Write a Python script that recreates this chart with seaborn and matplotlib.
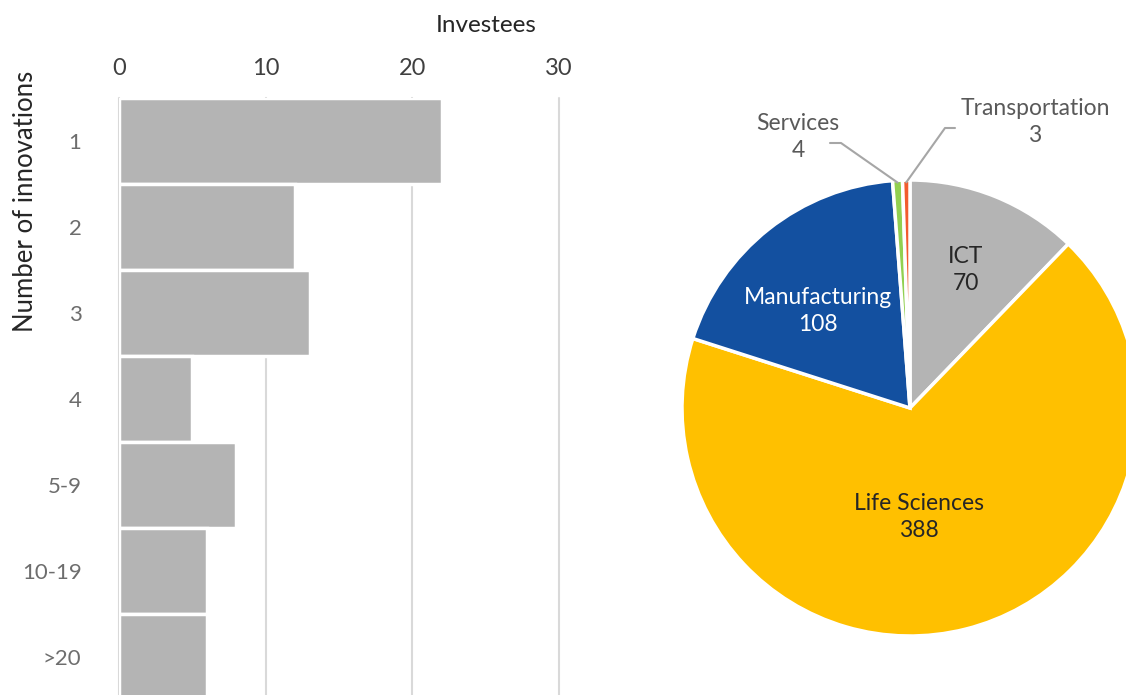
import numpy as np
import matplotlib
matplotlib.use("Agg")
import matplotlib.pyplot as plt
import seaborn as sns

# Data
innovation_bins = ["1", "2", "3", "4", "5-9", "10-19", ">20"]
investees = [22, 12, 13, 5, 8, 6, 6]

sectors = ["ICT", "Life Sciences", "Manufacturing", "Services", "Transportation"]
sector_counts = [70, 388, 108, 4, 3]
sector_colors = ["#B4B4B4", "#FFC000", "#1350A0", "#92D050", "#F25C2E"]

sns.set_theme(style="white")
plt.rcParams["font.family"] = ["Lato", "DejaVu Sans"]

W, H = 1126, 695
fig = plt.figure(figsize=(W / 100, H / 100), dpi=100)

# ---- left: horizontal bars, axis on top
ax = fig.add_axes([119 / W, 1 - 700 / H, 440 / W, 602 / H])
sns.barplot(x=investees, y=innovation_bins, orient="h", color="#B4B4B4",
            saturation=1, width=1.0, edgecolor="white", linewidth=2.5, ax=ax)
ax.set_xlim(0, 30)
ax.set_ylim(6.5, -0.5)
ax.set_xticks([0, 10, 20, 30])
ax.xaxis.tick_top()
ax.xaxis.set_label_position("top")
ax.tick_params(axis="x", length=0, pad=14, labelsize=17, labelcolor="#404040")
ax.tick_params(axis="y", length=0, pad=27, labelsize=16, labelcolor="#6d6d6d")
ax.grid(True, axis="x", color="#d9d9d9", linewidth=1.5)
ax.set_axisbelow(True)
for gl in ax.get_xgridlines():
    gl.set_clip_on(False)
sns.despine(ax=ax, left=True, bottom=True, top=True, right=True)

ax.set_xlabel("Investees", fontsize=17.5, color="#262626")
ax.xaxis.set_label_coords(0.834, 1.121)
ax.xaxis.label.set_va("center")
ax.set_ylabel("Number of innovations", fontsize=18.5, color="#262626")
ax.yaxis.set_label_coords(-0.2136, 0.829)
ax.yaxis.label.set_va("center")

# ---- right: pie
R = 228.0
half = 240.0
pax = fig.add_axes([(910 - half) / W, (H - 408 - half) / H, 2 * half / W, 2 * half / H])
wedges, _ = pax.pie(sector_counts, colors=sector_colors, startangle=90, counterclock=False,
                    radius=1.0, wedgeprops=dict(edgecolor="white", linewidth=2.5))
lim = half / R
pax.set_xlim(-lim, lim)
pax.set_ylim(-lim, lim)
pax.set_axis_off()

def px(x, y):
    # figure pixel -> pie data coords
    return (x - 910) / R, (408 - y) / R

inside = {
    "ICT": ((966, 270), "#262626"),
    "Life Sciences": ((919, 517), "#262626"),
    "Manufacturing": ((818, 311), "white"),
}
for name, count in zip(sectors, sector_counts):
    if name in inside:
        (x, y), c = inside[name]
        tx, ty = px(x, y)
        pax.text(tx, ty, f"{name}\n{count}", ha="center", va="center",
                 fontsize=16.5, color=c, linespacing=1.4)

# outside labels with leader lines
outside = {
    "Services": ((798, 137), (830, 143), (841, 143)),
    "Transportation": ((1035, 122), (955, 128), (945, 128)),
}
for w, name, count in zip(wedges, sectors, sector_counts):
    if name not in outside:
        continue
    (lx, ly), p1, p2 = outside[name]
    tx, ty = px(lx, ly)
    pax.text(tx, ty, f"{name}\n{count}", ha="center", va="center",
             fontsize=16.5, color="#595959", linespacing=1.4)
    mid = np.deg2rad((w.theta1 + w.theta2) / 2)
    ex, ey = 0.99 * np.cos(mid), 0.99 * np.sin(mid)
    a = px(*p1)
    b = px(*p2)
    pax.plot([a[0], b[0], ex], [a[1], b[1], ey], color="#a6a6a6", linewidth=1.5,
             clip_on=False)

fig.savefig("out.png", dpi=100)
